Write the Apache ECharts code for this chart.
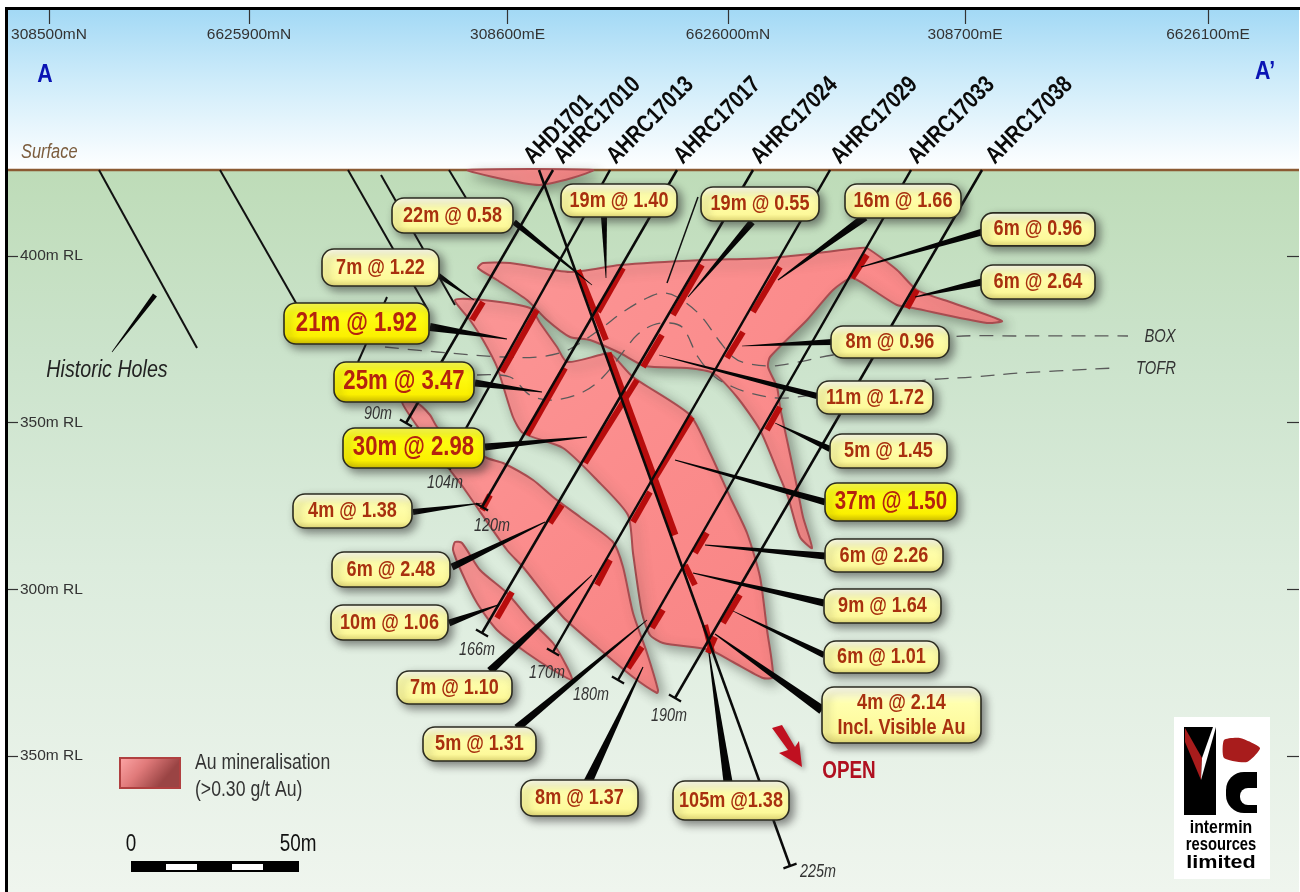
<!DOCTYPE html>
<html><head><meta charset="utf-8">
<style>html,body{margin:0;padding:0;background:#fff}#c{width:1300px;height:892px}</style>
<script src="https://cdn.jsdelivr.net/npm/echarts@6/dist/echarts.min.js"></script></head>
<body><div id="c"></div>
<script>
// ---- axes: section distance (m) and reduced level (m RL)
const sectionTicks=[14.7,74.7,152.25,218.4,289.5,362.4];
const sectionLabels=['308500mN','6625900mN','308600mE','6626000mN','308700mE','6626100mE'];
const rlTicks=[400,350,300,250];
const rlLabels=['400m RL','350m RL','300m RL','350m RL'];
const surfaceRL=425.8;

// ---- drill holes: [collar x, collar RL, end x, end RL]
const holeNames=['AHD1701','AHRC17010','AHRC17013','AHRC17017','AHRC17024','AHRC17029','AHRC17033','AHRC17038'];
const holes=[[161.7,425.8,237,217],[165.9,425.8,121.8,349.9],[183,425.8,133.5,337],[203.1,425.8,144.6,324.7],[225.9,425.8,144.6,286.9],[249,425.8,165.9,281.2],[273.3,425.8,185.4,272.8],[294.6,425.8,202.5,267.4]];
const holeNameX=[158.4,167.4,183.3,203.4,226.5,250.5,273.6,297];
const holeNameRL=428.8;
const historicHoles=[[29.7,425.8,59.1,372.4],[66,425.8,90,383.8],[104.4,425.8,128.4,383.8],[114.3,424.3,136.5,385.3],[134.7,425.8,139.8,417.4],[116.1,387.7,107.4,368.2],[209.4,417.7,200.1,391.9]];
const depthLabels=['90m','104m','120m','166m','170m','180m','190m','225m'];
const depthX=[113.4,133.5,147.6,143.1,164.1,177.3,200.7,245.4];
const depthRL=[352.6,331.9,319,281.8,274.9,268.3,262,215.2];

// ---- mineralised intercepts along the holes
const intercepts=[[144.9,386.2,141.6,380.8],[161.1,383.8,150.6,365.2],[169.5,366.4,158.1,346.3],[147,328.3,144.6,323.8],[186.9,396.4,179.4,383.2],[191.1,362.8,175.5,337.9],[168.6,325.3,165,319.9],[153.6,299.2,149.1,291.4],[210.6,397.3,201.9,382.3],[198.6,376.3,192.9,366.7],[207.6,351.7,195.6,331.9],[195,329.2,189.9,320.2],[183,308.8,179.1,301.3],[192.6,282.7,188.4,276.4],[234,396.7,225.9,383.2],[222.9,377.2,218.1,369.4],[234,354.7,230.1,347.8],[260.1,400.3,255.6,393.4],[275.1,389.8,272.1,384.4],[212.1,316.9,208.5,310.9],[222,298.3,216.9,289.9],[198.9,293.8,195.6,288.4],[214.5,285.7,212.4,280.9],[173.4,395.8,181.8,374.8],[182.4,370.9,202.5,316.3],[205.5,307.3,208.5,301.3],[211.5,289.3,213.6,281.2]];

// ---- mineralisation outlines [x, RL]
const lensSurface=[[140.4,425.8],[147.9,423.7],[161.7,421.3],[171.6,423.4],[177.9,425.8]];
const lensUpper=[[143.4,396.4],[144.9,397.9],[153,397.9],[171,395.2],[186,397.3],[210.9,398.8],[231,399.4],[258,402.4],[260.1,402.4],[269.1,395.8],[275.1,389.8],[285.9,385.9],[300.6,380.5],[296.1,379.9],[273.9,384.4],[269.1,385.3],[261.9,389.8],[255.6,393.4],[249.9,389.8],[242.1,380.8],[231,369.7],[230.4,366.7],[233.1,360.7],[234,354.7],[236.1,344.8],[239.1,330.7],[240.9,321.7],[243.6,312.4],[240,315.7],[236.4,327.7],[233.1,335.8],[228,347.8],[221.1,357.7],[213.9,364.9],[206.1,366.4],[193.5,367],[186,370.9],[177,374.8],[171,375.7],[164.1,380.8],[158.1,386.8],[149.1,392.8]];
const lensMain=[[136.5,386.8],[144.9,386.8],[159,384.4],[162,379.9],[167.1,372.7],[170.1,368.2],[180,370.3],[183,370.9],[189.9,363.7],[207,352.3],[213,340.9],[219,327.7],[224.1,316.9],[228,303.7],[230.1,287.8],[231.9,273.7],[228.9,273.4],[219.9,278.2],[213,281.8],[198.9,283.9],[195,286.3],[192.6,292.9],[189.9,310.9],[188.4,322.3],[179.1,332.8],[168.9,342.4],[156.9,346.9],[153.9,351.7],[149.1,366.7],[144.9,374.8],[141,380.8]];
const lensLower=[[120.6,356.2],[125.1,355.9],[129,352.3],[131.4,348.4],[146.1,339.4],[150.9,337.9],[159.9,332.8],[165.9,327.7],[174,321.7],[183.9,314.2],[186.9,306.7],[189.9,292.9],[194.1,280.9],[197.4,269.8],[197.1,268.9],[189.9,273.7],[179.1,282.7],[168.9,291.7],[156.9,306.7],[152.1,311.8],[138.9,330.7],[135,335.8],[126,347.8]];
const lensFootwall=[[136.5,314.2],[138.6,313.9],[144,305.8],[152.1,298.9],[159,290.8],[165.9,283.9],[170.1,276.7],[171.6,272.8],[165.9,275.8],[158.1,280.9],[149.1,287.8],[143.1,295.9],[138.6,304.9],[135.9,311.8]];

// ---- weathering boundaries
const boxBoundary=[[115.5,372.7],[131.1,371.2],[150.9,369.7],[161.1,369.7],[168.9,371.2],[174,373.9],[180.9,378.7],[186.9,383.2],[194.1,387.4],[198.9,388.9],[203.1,387.7],[210,382.3],[216,374.2],[219.9,369.7],[223.5,367.9],[231,367],[237.9,367.9],[249.9,370.3],[285,375.7],[306,376],[338.4,376]];
const tofrBoundary=[[143.1,364.3],[153,363.7],[159,358.3],[165.9,356.8],[174.9,359.2],[180.9,363.7],[188.1,372.7],[191.1,376.3],[195.9,379.3],[201,379.9],[204.9,378.4],[209.4,369.7],[214.5,363.7],[219.9,360.7],[225,358.9],[233.1,357.4],[239.1,357.7],[278.1,362.8],[291.9,363.7],[306,364.9],[334.5,366.4]];

// ---- grade call-outs
const gradeLabels=['22m @ 0.58','19m @ 1.40','19m @ 0.55','16m @ 1.66','6m @ 0.96','6m @ 2.64','7m @ 1.22','21m @ 1.92','25m @ 3.47','30m @ 2.98','8m @ 0.96','11m @ 1.72','5m @ 1.45','37m @ 1.50','6m @ 2.26','9m @ 1.64','6m @ 1.01','4m @ 2.14\nIncl. Visible Au','4m @ 1.38','6m @ 2.48','10m @ 1.06','7m @ 1.10','5m @ 1.31','8m @ 1.37','105m @1.38'];
const gradeX=[135.75,185.7,228,270.9,311.4,311.4,114.15,106.95,121.2,124.05,267,262.5,266.55,267.3,265.2,264.75,264.45,270.45,105.75,117.3,116.85,136.35,143.85,173.85,219.3];
const gradeRL=[412.15,416.65,415.6,416.5,408,392.2,396.55,379.75,362.2,342.4,374.2,357.55,341.5,326.2,310.15,295,279.7,262.3,323.5,305.95,290.05,270.55,253.6,237.4,236.65];
const leaders=[[154.2,410.2,177.6,391.3],[181.2,411.7,181.8,393.4],[225.6,410.2,206.4,387.7],[259.5,411.7,233.4,392.8],[294.6,407.2,258.3,396.7],[294.6,392.2,274.5,387.7],[131.4,394.3,142.2,386.8],[129,378.7,152.1,375.1],[142.5,361.9,162.6,359.2],[145.5,342.7,176.1,345.7],[249.6,374.2,222.6,373],[245.1,358,197.7,370.3],[249,342.1,232.5,349.9],[247.5,326.2,202.5,338.8],[247.5,310,211.5,313.3],[247.2,295.9,207.9,304.9],[247.2,280.3,219.9,293.5],[246.6,263.8,214.5,286.6],[218.4,242.2,212.7,280.9],[123.9,323.2,144.6,325.9],[135.6,306.7,163.5,320.2],[134.7,289.9,149.4,295.3],[147,275.5,177.6,304.3],[155.1,258.4,194.1,290.8],[176.4,242.2,192.9,276.7],[46.5,388.3,33.6,371.2]];

// ---- other annotations
const openArrow=[[231.6,258.4],[234.6,259.3],[238.5,252.7],[239.7,254.5],[240.6,246.7],[233.7,250.9],[236.4,251.8]];

// ---- layout only (px)
const boxW=[121,116,118,116,114,114,117,145,140,141,118,116,117,132,118,117,115,159,119,118,117,115,113,117,116];
const boxH=[35,33,34,34,33,34,37,41,40,40,32,33,34,38,33,34,32,56,34,35,35,33,34,36,39];
const boxFont=[22,22,22,22,22,22,22,27,27,27,22,22,22,25,22,22,22,22,22,22,22,22,22,22,22];
const leaderW=[6,6,7,8,7,7,5,8,7,7,6,6,6,7,7,7,6,9,9,6,7,7,8,8,9,5];
const FONT='"Liberation Sans",Arial,sans-serif';
const NARROW=0.82;

function custom(z,n,render){
  return {type:'custom',coordinateSystem:'cartesian2d',xAxisIndex:0,yAxisIndex:0,z:z,silent:true,clip:false,animation:false,
    data:Array.from({length:n},(_,i)=>[i,0]),renderItem:(p,api)=>render(p.dataIndex,api)};
}
const lg=(a,x2,y2)=>({type:'linear',x:0,y:0,x2:x2,y2:y2,colorStops:a.map((c,i)=>({offset:c[0],color:c[1]}))});
const txt=(api,s,x,y,o,sx)=>{const c=api.coord([x,y]);return {type:'text',silent:true,x:c[0],y:c[1],scaleX:sx||NARROW,style:Object.assign({text:s,x:0,y:0,fill:'#333',align:'center',verticalAlign:'middle'},o)};};
const box=(api,x0,y0,x1,y1,style)=>{const a=api.coord([x0,y0]),b=api.coord([x1,y1]);return {type:'rect',shape:{x:a[0],y:a[1],width:b[0]-a[0],height:b[1]-a[1]},style:style,silent:true};};

const lenses=[lensSurface,lensUpper,lensMain,lensLower,lensFootwall];
const boundaries=[boxBoundary,tofrBoundary];

const annotationText=['Surface','A',"A\u2019",'BOX','TOFR','Historic Holes'];
const annotationX=[6.3,13.5,379.5,348,346.8,32.1];
const annotationRL=[431.2,454.3,455.2,375.7,366.1,365.8];
const annotationStyle=[
 {font:'italic 20px '+FONT,fill:'#7b5c3d',align:'left'},
 {font:'bold 26px '+FONT,fill:'#0a14b4'},
 {font:'bold 26px '+FONT,fill:'#0a14b4'},
 {font:'italic 18px '+FONT,fill:'#333'},
 {font:'italic 18px '+FONT,fill:'#333'},
 {font:'italic 24px '+FONT,fill:'#222'}];

const series=[
 custom(0,2,(i,api)=> i==0
   ? box(api,2.4,473.8,389.7,surfaceRL,{fill:lg([[0,'#a3d9f5'],[0.45,'#cfecfa'],[1,'#ffffff']],0,1)})
   : box(api,2.4,surfaceRL,389.7,209.2,{fill:lg([[0,'#bedcb8'],[0.25,'#cbe3cb'],[0.55,'#dcecdd'],[1,'#eff5ee']],0,1)})),
 {type:'line',z:1,silent:true,symbol:'none',animation:false,data:[[2.4,surfaceRL],[389.7,surfaceRL]],lineStyle:{color:'#8b5a33',width:2.5}},
 custom(3,lenses.length,(i,api)=>({type:'polygon',silent:true,shape:{points:lenses[i].map(api.coord),smooth:0.22},
   style:{fill:lg([[0,'#fb9696'],[0.5,'#fb8c8c'],[1,'#f88484']],1,1),stroke:'#a84c50',lineWidth:2,shadowBlur:12,shadowColor:'rgba(50,60,50,0.45)',shadowOffsetX:5,shadowOffsetY:5}})),
 custom(4,boundaries.length,(i,api)=>({type:'polyline',silent:true,shape:{points:boundaries[i].map(api.coord),smooth:0.35},
   style:{fill:null,stroke:'#5a5a5a',lineWidth:1.3,lineDash:[14,9]}})),
 custom(5,historicHoles.length,(i,api)=>{const h=historicHoles[i];return {type:'line',silent:true,shape:{x1:api.coord([h[0],h[1]])[0],y1:api.coord([h[0],h[1]])[1],x2:api.coord([h[2],h[3]])[0],y2:api.coord([h[2],h[3]])[1]},style:{stroke:'#111',lineWidth:i==6?1.5:2}};}),
 custom(6,intercepts.length,(i,api)=>{const h=intercepts[i],a=api.coord([h[0],h[1]]),b=api.coord([h[2],h[3]]);return {type:'line',silent:true,shape:{x1:a[0],y1:a[1],x2:b[0],y2:b[1]},style:{stroke:'#b80d0d',lineWidth:i==24?7:6}};}),
 custom(7,holes.length,(i,api)=>{const h=holes[i],a=api.coord([h[0],h[1]]),b=api.coord([h[2],h[3]]);const dx=b[0]-a[0],dy=b[1]-a[1],L=Math.hypot(dx,dy),nx=-dy/L*7,ny=dx/L*7;
   return {type:'group',silent:true,children:[
     {type:'line',shape:{x1:a[0],y1:a[1],x2:b[0],y2:b[1]},style:{stroke:'#0a0a0a',lineWidth:2.5}},
     {type:'line',shape:{x1:b[0]-nx,y1:b[1]-ny,x2:b[0]+nx,y2:b[1]+ny},style:{stroke:'#0a0a0a',lineWidth:2.2}}]};}),
 custom(8,leaders.length,(i,api)=>{const h=leaders[i],a=api.coord([h[0],h[1]]),b=api.coord([h[2],h[3]]);const dx=b[0]-a[0],dy=b[1]-a[1],L=Math.hypot(dx,dy),w=leaderW[i]/2,nx=-dy/L*w,ny=dx/L*w;
   return {type:'polygon',silent:true,shape:{points:[[a[0]-nx,a[1]-ny],[a[0]+nx,a[1]+ny],[b[0]+nx*.12,b[1]+ny*.12],[b[0]-nx*.12,b[1]-ny*.12]]},style:{fill:'#050505'}};}),
 custom(9,gradeLabels.length,(i,api)=>{const c=api.coord([gradeX[i],gradeRL[i]]),w=boxW[i],h=boxH[i],bright=boxFont[i]>22;
   return {type:'group',silent:true,children:[
     {type:'rect',shape:{x:c[0]-w/2,y:c[1]-h/2,width:w,height:h,r:12},style:{
        fill:bright?lg([[0,'#ffff55'],[0.25,'#ffff14'],[0.8,'#fbf000'],[1,'#cdbb00']],0,1):lg([[0,'#fffff4'],[0.3,'#ffffae'],[0.8,'#fdf99a'],[1,'#e2d874']],0,1),
        stroke:'#2b2b20',lineWidth:1.6,shadowBlur:9,shadowColor:'rgba(40,40,40,0.55)',shadowOffsetX:4,shadowOffsetY:4}},
     txt(api,gradeLabels[i],gradeX[i],gradeRL[i],{lineHeight:i==17?25:undefined,font:'bold '+boxFont[i]+'px '+FONT,fill:bright?'#b4220f':'#a8300f'})]};}),
 custom(10,holeNames.length,(i,api)=>{const c=api.coord([holeNameX[i],holeNameRL]);return {type:'text',silent:true,x:c[0],y:c[1],rotation:Math.PI/4,scaleX:NARROW,style:{text:holeNames[i],x:0,y:0,align:'left',verticalAlign:'middle',font:'bold 24px '+FONT,fill:'#0a0a0a'}};}),
 custom(10,depthLabels.length,(i,api)=>txt(api,depthLabels[i],depthX[i],depthRL[i],{font:'italic 17.5px '+FONT,fill:'#333'})),
 custom(10,annotationText.length,(i,api)=>txt(api,annotationText[i],annotationX[i],annotationRL[i],annotationStyle[i])),
 custom(10,1,(i,api)=>({type:'group',silent:true,children:[
   {type:'polygon',shape:{points:openArrow.map(api.coord)},style:{fill:'#c01020',shadowBlur:5,shadowColor:'rgba(50,50,50,.4)',shadowOffsetX:3,shadowOffsetY:3}},
   txt(api,'OPEN',254.7,245.2,{font:'bold 23px '+FONT,fill:'#b01020'}),
   box(api,36,249.4,54,240.4,{fill:lg([[0,'#ffa8a8'],[0.5,'#e07a7a'],[1,'#9a4444']],0.6,1),stroke:'#b04040',lineWidth:2}),
   txt(api,'Au mineralisation',58.5,247.9,{font:'21.5px '+FONT,align:'left'}),
   txt(api,'(>0.30 g/t Au)',58.5,239.8,{font:'21.5px '+FONT,align:'left'}),
   box(api,39.3,218.5,89.7,215.2,{fill:'#000'}),
   box(api,49.8,217.6,59.1,215.8,{fill:'#fff'}),
   box(api,69.6,217.6,78.9,215.8,{fill:'#fff'}),
   txt(api,'0',39.3,223.3,{font:'23px '+FONT,fill:'#111'}),
   txt(api,'50m',89.4,223.3,{font:'23px '+FONT,fill:'#111'})]}))
];

const chart=echarts.init(document.getElementById('c'),null,{renderer:'canvas'});
chart.setOption({
 animation:false,backgroundColor:'#ffffff',
 grid:{left:8,right:1,top:10,bottom:0},
 xAxis:{type:'value',position:'top',min:2.4,max:389.7,splitLine:{show:false},axisLine:{show:false},
   axisTick:{show:true,inside:true,length:14,customValues:sectionTicks,lineStyle:{color:'#333',width:1.2}},
   axisLabel:{show:true,inside:true,margin:17,customValues:sectionTicks,color:'#333',fontSize:15.5,fontFamily:FONT,formatter:v=>sectionLabels[sectionTicks.indexOf(v)]}},
 yAxis:[
  {type:'value',position:'left',min:209.2,max:473.8,splitLine:{show:false},axisLine:{show:false},
   axisTick:{show:true,inside:true,length:10,customValues:rlTicks,lineStyle:{color:'#333',width:1.2}},
   axisLabel:{show:true,inside:true,margin:12,customValues:rlTicks,color:'#333',fontSize:15.5,fontFamily:FONT,formatter:v=>rlLabels[rlTicks.indexOf(v)]}},
  {type:'value',position:'right',min:209.2,max:473.8,splitLine:{show:false},axisLine:{show:false},
   axisTick:{show:true,inside:true,length:12,customValues:rlTicks,lineStyle:{color:'#333',width:1.2}},axisLabel:{show:false}}],
 graphic:{elements:[
  {type:'rect',z:100,silent:true,shape:{x:5,y:7,width:1295,height:3},style:{fill:'#000'}},
  {type:'rect',z:100,silent:true,shape:{x:5,y:7,width:3,height:885},style:{fill:'#000'}},
  {type:'rect',z:100,silent:true,shape:{x:1174,y:717,width:96,height:162},style:{fill:'#fff'}},
  {type:'rect',z:101,silent:true,shape:{x:1184,y:727,width:32,height:88},style:{fill:'#000'}},
  {type:'polygon',z:102,silent:true,shape:{points:[[1185,728],[1202,758],[1201,780],[1185,742]]},style:{fill:'#a81c1c'}},
  {type:'polygon',z:102,silent:true,shape:{points:[[1202,758],[1213,727],[1216,727],[1201,780]]},style:{fill:'#fff'}},
  {type:'polygon',z:101,silent:true,shape:{points:[[1224,740],[1240,738],[1260,748],[1247,762],[1224,758]],smooth:0.2},style:{fill:'#a81c1c'}},
  {type:'rect',z:101,silent:true,shape:{x:1226,y:772,width:31,height:41,r:[18,0,0,18]},style:{fill:'#000'}},
  {type:'rect',z:102,silent:true,shape:{x:1240,y:788,width:17,height:17,r:[8,0,0,8]},style:{fill:'#fff'}},
  {type:'text',z:102,silent:true,x:1221,y:828,scaleX:0.88,style:{text:'intermin',x:0,y:0,align:'center',verticalAlign:'middle',font:'bold 18px '+FONT,fill:'#000'}},
  {type:'text',z:102,silent:true,x:1221,y:845,scaleX:0.82,style:{text:'resources',x:0,y:0,align:'center',verticalAlign:'middle',font:'bold 18px '+FONT,fill:'#000'}},
  {type:'text',z:102,silent:true,x:1221,y:863,scaleX:1.2,style:{text:'limited',x:0,y:0,align:'center',verticalAlign:'middle',font:'bold 18px '+FONT,fill:'#000'}}
 ]},
 series:series
});
</script></body></html>
